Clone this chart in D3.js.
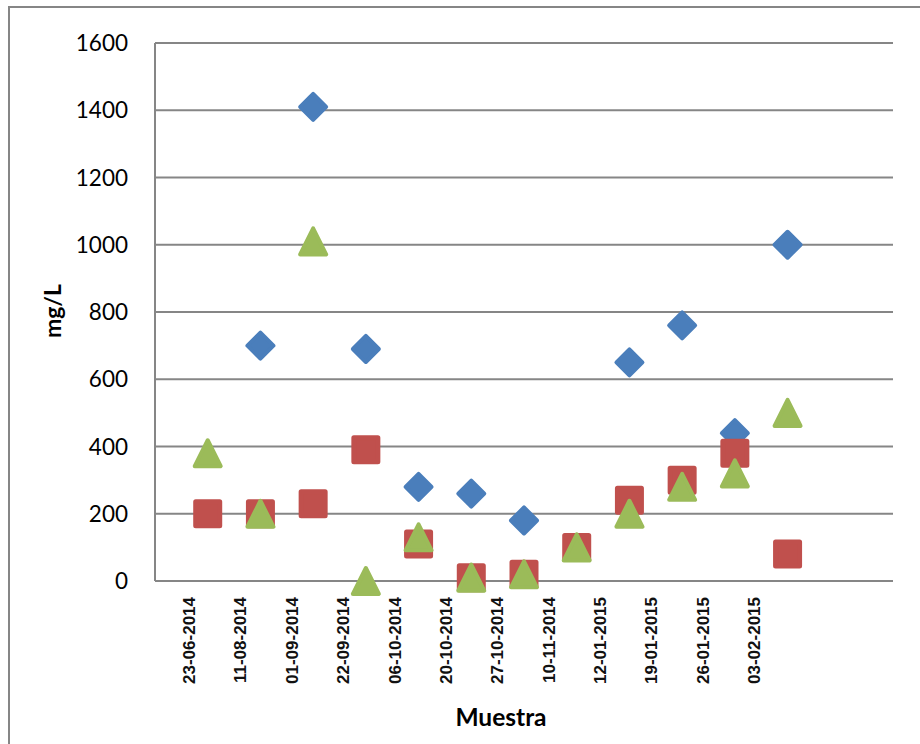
<!DOCTYPE html>
<html>
<head>
<meta charset="utf-8">
<script src="https://cdn.jsdelivr.net/npm/d3@7"></script>
<style>
  html, body { margin: 0; padding: 0; background: #fff; }
  svg { display: block; }
</style>
</head>
<body>
<svg id="chart" width="920" height="744"></svg>
<script>
// Sample dates along the horizontal axis
const dateLabels = [
  "23-06-2014", "11-08-2014", "01-09-2014", "22-09-2014", "06-10-2014", "20-10-2014",
  "27-10-2014", "10-11-2014", "12-01-2015", "19-01-2015", "26-01-2015", "03-02-2015"
];
// Sample positions (1..12) on the horizontal scale
const samplePos = [1, 2, 3, 4, 5, 6, 7, 8, 9, 10, 11, 12];
// Concentrations in mg/L (null = no measurement)
const seriesBlue  = [null, 700, 1410, 690, 280, 260, 180, null, 650, 760, 440, 1000];
const seriesRed   = [200, 200, 230, 390, 110, 10, 20, 100, 240, 300, 380, 80];
const seriesGreen = [380, 200, 1010, 0, 130, 10, 20, 100, 200, 280, 320, 500];
const yTicks = [0, 200, 400, 600, 800, 1000, 1200, 1400, 1600];

const svg = d3.select("#chart");
const gridColor = "#868686";

const plot = { left: 155, right: 893, top: 43, bottom: 581 };
const x = d3.scaleLinear().domain([0, 14]).range([plot.left, plot.right]);
const y = d3.scaleLinear().domain([0, 1600]).range([plot.bottom, plot.top]);
const xLabel = d3.scalePoint().domain(dateLabels).range([189, 754]);

// chart frame
svg.append("path")
  .attr("d", "M9,744 V7 H920")
  .attr("fill", "none").attr("stroke", gridColor).attr("stroke-width", 2);

// horizontal gridlines
svg.append("g").selectAll("line").data(yTicks).join("line")
  .attr("x1", plot.left).attr("x2", plot.right)
  .attr("y1", d => y(d)).attr("y2", d => y(d))
  .attr("stroke", gridColor).attr("stroke-width", 2);

// vertical axis line
svg.append("line")
  .attr("x1", plot.left).attr("x2", plot.left)
  .attr("y1", plot.top).attr("y2", plot.bottom)
  .attr("stroke", gridColor).attr("stroke-width", 2);

// y tick labels
svg.append("g").selectAll("text").data(yTicks).join("text")
  .attr("x", 128).attr("y", d => y(d)).attr("dy", "0.36em")
  .attr("text-anchor", "end")
  .attr("font-family", "Lato, 'Open Sans', sans-serif")
  .attr("font-size", 22.5).attr("fill", "#000")
  .text(d => d);

// x date labels (rotated)
svg.append("g").selectAll("text").data(dateLabels).join("text")
  .attr("transform", d => `translate(${xLabel(d)},597) rotate(-90)`)
  .attr("dy", "0.36em")
  .attr("text-anchor", "end")
  .attr("font-family", "'Liberation Sans Narrow', 'Arial Narrow', 'Liberation Sans', sans-serif")
  .attr("font-weight", "bold")
  .attr("font-size", 17).attr("fill", "#111")
  .text(d => d);

// axis titles
svg.append("text")
  .attr("transform", "translate(61,311) rotate(-90)")
  .attr("text-anchor", "middle")
  .attr("font-family", "Lato, sans-serif").attr("font-weight", "bold")
  .attr("font-size", 23).attr("fill", "#000")
  .text("mg/L");

svg.append("text")
  .attr("x", 501).attr("y", 726)
  .attr("text-anchor", "middle")
  .attr("font-family", "Lato, sans-serif").attr("font-weight", "bold")
  .attr("font-size", 24.5).attr("fill", "#000")
  .text("Muestra");

// marker shapes, centred at origin; a round-joined stroke softens corners
const half = 13;
const shapes = {
  diamond: `M0,${-half} L${half},0 L0,${half} L${-half},0 Z`,
  square: `M${-half + 1},${-half + 1} H${half - 1} V${half - 1} H${-half + 1} Z`,
  triangle: `M0,${-half} L${half},${half} L${-half},${half} Z`
};

function drawSeries(values, color, shape) {
  const pts = samplePos.map((p, i) => ({ p, v: values[i] })).filter(d => d.v != null);
  svg.append("g").selectAll("path").data(pts).join("path")
    .attr("transform", d => `translate(${x(d.p)},${y(d.v)})`)
    .attr("d", shapes[shape])
    .attr("fill", color)
    .attr("stroke", color)
    .attr("stroke-width", shape === "square" ? 5 : 4)
    .attr("stroke-linejoin", "round");
}

drawSeries(seriesBlue, "#4a7ebb", "diamond");
drawSeries(seriesRed, "#c0504d", "square");
drawSeries(seriesGreen, "#9bbb59", "triangle");
</script>
</body>
</html>
